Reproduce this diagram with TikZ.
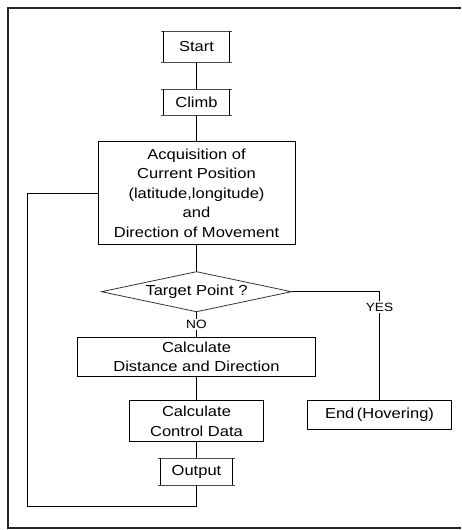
\documentclass[tikz,border=0pt]{standalone}
\usepackage{fontspec}
\setmainfont[FakeStretch=1.14]{Liberation Sans}
\usetikzlibrary{positioning,shapes.geometric}

\begin{document}
\begin{tikzpicture}
[x=1pt,y=-1pt,
 every node/.style={inner sep=0pt,outer sep=0pt,align=center,font=\fontsize{14.5}{19.5}\selectfont},
 proc/.style={rectangle,draw=black,line width=0.8pt},
 term/.style={rectangle,line width=0.8pt,
   append after command={
     ([xshift=-2.5pt]\tikzlastnode.north west) edge[draw=black!70,line width=0.8pt] ([xshift=2.5pt]\tikzlastnode.north east)
     ([xshift=-2.5pt]\tikzlastnode.south west) edge[draw=black!70,line width=0.8pt] ([xshift=2.5pt]\tikzlastnode.south east)
     (\tikzlastnode.north west) edge[draw=black,line width=0.8pt] (\tikzlastnode.south west)
     (\tikzlastnode.north east) edge[draw=black,line width=0.8pt] (\tikzlastnode.south east)}},
 test/.style={diamond,draw=black!80,line width=0.8pt,aspect=4.75},
 answer/.style={fill=white,inner sep=1.5pt,font=\fontsize{12}{14}\selectfont},
 link/.style={draw=black,line width=0.8pt},
 frame/.style={draw=black!85,line width=2pt}]
\useasboundingbox (0,0) rectangle (461,530);
\draw[frame] (461,7.5) -- (7.5,7.5) -- (7.5,528) -- (461,528);

\node[term] (start) at (196.5,46.5) [minimum width=66pt,minimum height=31pt] {Start};
\node[term] (climb) [on grid,below=55.5pt of start,minimum width=66pt,minimum height=26pt] {Climb};
\node[proc] (acq)   [on grid,below=91pt of climb,minimum width=197pt,minimum height=102.6pt]
  {Acquisition of\\Current Position\\(latitude,longitude)\\and\\Direction of Movement};
\node[test] (target) [on grid,below=98.7pt of acq,minimum width=190pt,minimum height=40pt] {Target Point ?};
\node[proc] (dist)  [on grid,below=65pt of target,minimum width=238.7pt,minimum height=38.7pt]
  {Calculate\\Distance and Direction};
\node[proc] (ctrl)  [on grid,below=64.5pt of dist,minimum width=134.3pt,minimum height=41pt]
  {Calculate\\Control Data};
\node[term] (output) [on grid,below=50.5pt of ctrl,minimum width=71.3pt,minimum height=26.7pt] {Output};
\node[proc] (end)   [on grid,below right=123.3pt and 183pt of target,minimum width=144pt,minimum height=28.6pt]
  {End\,(Hovering)};
\coordinate (loop) at (27,506);

\path[link] (start) edge (climb)
            (climb) edge (acq)
            (acq)   edge (target)
            (dist)  edge (ctrl)
            (ctrl)  edge (output);
\draw[link] (target) -- node[answer] {NO} (dist);
\draw[link] (target.east) -| node[answer,pos=0.57] {YES} (end.north);
\draw[link] (output.south) |- (loop) |- (acq.west);
\end{tikzpicture}
\end{document}
